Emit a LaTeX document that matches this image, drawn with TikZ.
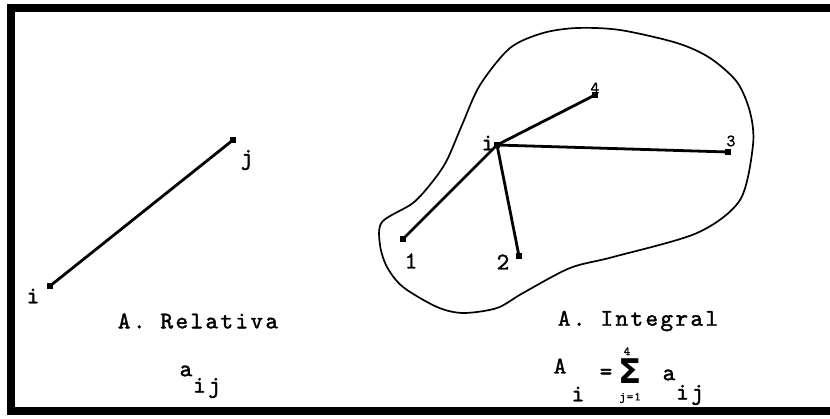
\documentclass[tikz,border=0pt]{standalone}
\usepackage{fontspec}
\newfontfamily\tw{lmmono10-regular}[Extension=.otf, LetterSpace=10, FakeBold=1.6]
\newfontfamily\dvs{DejaVu Sans}
\begin{document}
\begin{tikzpicture}[x=1pt,y=-1pt,
  pt/.style={fill, rectangle, minimum size=5.5pt, inner sep=0pt},
  lbl/.style={font=\tw\fontsize{24}{24}\selectfont, inner sep=0pt},
  slbl/.style={font=\tw\fontsize{17}{17}\selectfont, inner sep=0pt},
  tlbl/.style={font=\tw\fontsize{12}{12}\selectfont, inner sep=0pt},
  link/.style={line width=2.8pt},
  frame/.style={line width=8pt, line join=miter},
  blob/.style={line width=1.7pt}]
\useasboundingbox (0,0) rectangle (830,418);
\draw[frame] (830,8) -- (11,8) -- (11,411) -- (830,411);

% relative
\node[pt] (ri) at (50,286) {};
\node[pt] (rj) at (233,140) {};
\draw[link] (ri.center) -- (rj.center);
\node[lbl] (lri) at (33,296) {i};
\node[lbl] (lrj) at (247,160) {j};
\node[lbl] (capr) at (198,321) {A. Relativa};
\node[lbl] (ra) at (186,371) {a};
\node[lbl] (rij) at (207,388) {ij};

% integral
\draw[blob] plot[smooth cycle, tension=0.5] coordinates {
 (382,222) (413,203) (433,181) (447,160) (462,125) (480,85) (510,48)
 (543,33) (577,28) (620,30) (677,43) (710,58) (737,82) (750,112) (753,145)
 (740,200) (697,233) (613,257) (570,268) (523,293) (497,308) (463,313)
 (437,307) (403,287) (387,267) (380,245)};
\node[pt] (hi) at (497,145) {};
\node[pt] (p1) at (403,239) {};
\node[pt] (p2) at (519,256) {};
\node[pt] (p3) at (728,152) {};
\node[pt] (p4) at (595,95) {};
\draw[link] (hi.center) -- (p1.center);
\draw[link] (hi.center) -- (p2.center);
\draw[link] (hi.center) -- (p3.center);
\draw[link] (hi.center) -- (p4.center);
\node[lbl] (lhi) at (488,143) {i};
\node[lbl] (l1) at (411,261) {1};
\node[lbl] (l2) at (503,262) {2};
\node[slbl] (l3) at (731,141) {3};
\node[slbl] (l4) at (595,88) {4};
\node[lbl] (capi) at (638,321) {A. Integral};
\node[lbl] (fA) at (560,366) {A};
\node[lbl] (fi) at (578,394) {i};
\node[lbl] (feq) at (606,374) {=};
\node[font=\dvs\bfseries\fontsize{34}{34}\selectfont, inner sep=0pt, anchor=base] (fsum) at (630,383) {Σ};
\node[tlbl, anchor=base] (fup) at (627,355) {4};
\node[tlbl] (flow) at (630,398) {j=1};
\node[lbl] (fa) at (669,375) {a};
\node[lbl] (fij) at (690,395) {ij};
\end{tikzpicture}
\end{document}
